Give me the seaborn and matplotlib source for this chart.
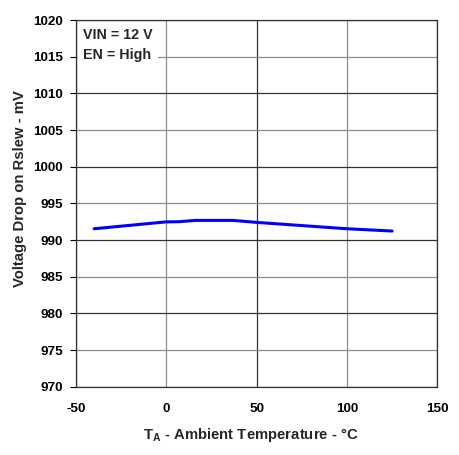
import matplotlib
matplotlib.use("Agg")
import matplotlib.pyplot as plt
import seaborn as sns
import pandas as pd

temps = [-40, 0, 7, 16, 37, 50, 100, 125]
vdrop = [991.54, 992.48, 992.5, 992.68, 992.68, 992.41, 991.54, 991.23]
x_ticks = [-50, 0, 50, 100, 150]
y_ticks = [970, 975, 980, 985, 990, 995, 1000, 1005, 1010, 1015, 1020]
annot_lines = ["VIN = 12 V", "EN = High"]

sns.set_theme(style="white")
plt.rcParams["font.family"] = ["Liberation Sans", "DejaVu Sans"]
plt.rcParams["font.weight"] = "bold"
plt.rcParams["mathtext.fontset"] = "custom"
plt.rcParams["mathtext.rm"] = "Liberation Sans:bold"
plt.rcParams["mathtext.bf"] = "Liberation Sans:bold"
plt.rcParams["mathtext.it"] = "Liberation Sans:bold"

df = pd.DataFrame({"T": temps, "V": vdrop})

fig = plt.figure(figsize=(4.59, 4.55), dpi=100)
ax = fig.add_axes([0.1656, 0.150, 0.9527 - 0.1656, 0.956 - 0.150])

sns.lineplot(data=df, x="T", y="V", ax=ax, color="#0000ff", linewidth=2.2, zorder=3)

ax.set_xlim(-50, 150)
ax.set_ylim(970, 1020)
ax.set_xticks(x_ticks)
ax.set_yticks(y_ticks)
ax.set_xticklabels([str(v) for v in x_ticks], fontsize=9.7, fontweight="bold")
ax.set_yticklabels([str(v) for v in y_ticks], fontsize=9.7, fontweight="bold")
ax.tick_params(axis="x", length=0, pad=12, colors="black")
ax.tick_params(axis="y", length=4.5, width=0.8, direction="out", pad=5, colors="black", left=True)

ax.grid(True, linewidth=0.9)
for i, gl in enumerate(ax.get_xgridlines()):
    gl.set_color("#8c8c8c" if i % 2 == 1 else "#333333")
for i, gl in enumerate(ax.get_ygridlines()):
    gl.set_color("#333333" if i % 2 == 0 else "#8c8c8c")

for s in ax.spines.values():
    s.set_visible(True)
    s.set_color("#333333")
    s.set_linewidth(0.9)

ax.set_xlabel(r"$\mathbf{T_A}$ - Ambient Temperature - °C", fontsize=10.7,
              fontweight="bold")
ax.set_ylabel("Voltage Drop on Rslew - mV", fontsize=10.7, fontweight="bold")
ax.xaxis.set_label_coords(0.483, -0.108)
ax.yaxis.set_label_coords(-0.136, 0.540)

ax.text(0.02, 0.978, "\n".join(annot_lines), transform=ax.transAxes,
        fontsize=10.3, fontweight="bold", va="top", ha="left", linespacing=1.55,
        bbox=dict(facecolor="white", edgecolor="none", pad=4), zorder=4)

fig.savefig("out.png", dpi=100)
